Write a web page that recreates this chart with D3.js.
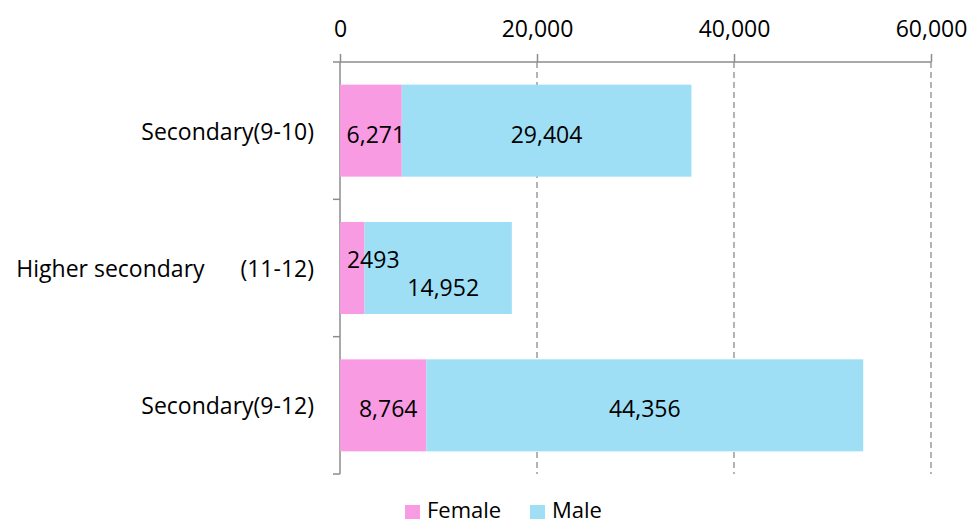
<!DOCTYPE html>
<html>
<head>
<meta charset="utf-8">
<script src="https://cdn.jsdelivr.net/npm/d3@7"></script>
<style>
    body { margin: 0; background: #fff; font-family: 'Open Sans', sans-serif; }
    svg text { font-family: 'Open Sans', sans-serif; fill: #000; }
    .cat { white-space: pre; }
</style>
</head>
<body>
<div id="chart"></div>
<script>
// data
var categories = ["Secondary(9-10)", "Higher secondary      (11-12)", "Secondary(9-12)"];
var female = [6271, 2493, 8764];
var male = [29404, 14952, 44356];
var femaleLabels = ["6,271", "2493", "8,764"];
var maleLabels = ["29,404", "14,952", "44,356"];
var xTicks = [0, 20000, 40000, 60000];

var width = 971, height = 520;
var top0 = 62, bottom0 = 474, fs = 23;

var svg = d3.select("#chart").append("svg")
    .attr("width", width)
    .attr("height", height);

var x = d3.scaleLinear().domain([0, 60000]).range([340, 931]);
var y = d3.scaleBand().domain(categories).range([top0, bottom0]).paddingInner(0.33).paddingOuter(0.165);

var pink = "#f99be3", blue = "#9edff5", axisCol = "#8c8c8c";

// gridlines
svg.append("g").selectAll("line")
    .data(xTicks.slice(1))
    .enter().append("line")
    .attr("x1", function(d) { return x(d); })
    .attr("x2", function(d) { return x(d); })
    .attr("y1", top0)
    .attr("y2", bottom0)
    .attr("stroke", axisCol)
    .attr("stroke-width", 1.3)
    .attr("stroke-dasharray", "6,4");

// top axis
var xAxis = d3.axisTop(x).tickValues(xTicks).tickSize(8).tickPadding(17)
    .tickFormat(d3.format(","));
var gx = svg.append("g").attr("transform", "translate(0," + top0 + ")").call(xAxis);
gx.select(".domain").attr("stroke", axisCol).attr("stroke-width", 1.5).attr("d", "M" + (x(0) - 7) + ",0H" + x(60000));
gx.selectAll(".tick line").attr("stroke", axisCol).attr("stroke-width", 1.5);
gx.selectAll(".tick text").attr("font-size", fs).attr("fill", "#000")
    .style("font-family", "'Open Sans', sans-serif");

// left axis line and ticks between categories
var bounds = d3.range(categories.length + 1).map(function(i) { return top0 + i * y.step(); });
svg.append("line")
    .attr("x1", x(0)).attr("x2", x(0))
    .attr("y1", top0).attr("y2", bottom0)
    .attr("stroke", axisCol).attr("stroke-width", 1.5);
svg.append("g").selectAll("line")
    .data(bounds.slice(1))
    .enter().append("line")
    .attr("x1", x(0) - 7).attr("x2", x(0))
    .attr("y1", function(d) { return d; })
    .attr("y2", function(d) { return d; })
    .attr("stroke", axisCol).attr("stroke-width", 1.5);

// category labels
svg.append("g").selectAll("text")
    .data(categories)
    .enter().append("text")
    .attr("class", "cat")
    .attr("x", 314)
    .attr("y", function(d) { return y(d) + y.bandwidth() / 2 + 1; })
    .attr("dy", "0.35em")
    .attr("text-anchor", "end")
    .attr("font-size", fs)
    .text(function(d) { return d; });

// bars
var rows = categories.map(function(c, i) { return {cat: c, f: female[i], m: male[i], fl: femaleLabels[i], ml: maleLabels[i]}; });

svg.append("g").selectAll("rect")
    .data(rows)
    .enter().append("rect")
    .attr("x", x(0))
    .attr("y", function(d) { return y(d.cat); })
    .attr("width", function(d) { return x(d.f) - x(0); })
    .attr("height", y.bandwidth())
    .attr("fill", pink);

svg.append("g").selectAll("rect")
    .data(rows)
    .enter().append("rect")
    .attr("x", function(d) { return x(d.f); })
    .attr("y", function(d) { return y(d.cat); })
    .attr("width", function(d) { return x(d.f + d.m) - x(d.f); })
    .attr("height", y.bandwidth())
    .attr("fill", blue);

// value labels (the small ones are nudged as in the original)
var fOff = [[5, 4], [21, -8], [5, 4]];
var mOff = [[0, 4], [5, 20], [0, 4]];
svg.append("g").selectAll("text")
    .data(rows)
    .enter().append("text")
    .attr("x", function(d, i) { return (x(0) + x(d.f)) / 2 + fOff[i][0]; })
    .attr("y", function(d, i) { return y(d.cat) + y.bandwidth() / 2 + fOff[i][1]; })
    .attr("dy", "0.35em")
    .attr("text-anchor", "middle")
    .attr("font-size", fs)
    .text(function(d) { return d.fl; });

svg.append("g").selectAll("text")
    .data(rows)
    .enter().append("text")
    .attr("x", function(d, i) { return (x(d.f) + x(d.f + d.m)) / 2 + mOff[i][0]; })
    .attr("y", function(d, i) { return y(d.cat) + y.bandwidth() / 2 + mOff[i][1]; })
    .attr("dy", "0.35em")
    .attr("text-anchor", "middle")
    .attr("font-size", fs)
    .text(function(d) { return d.ml; });

// legend
var legend = [{name: "Female", color: pink, x: 405}, {name: "Male", color: blue, x: 530}];
var lg = svg.append("g").selectAll("g")
    .data(legend)
    .enter().append("g")
    .attr("transform", function(d) { return "translate(" + d.x + ",505)"; });
lg.append("rect").attr("width", 15).attr("height", 14).attr("fill", function(d) { return d.color; });
lg.append("text")
    .attr("x", 22)
    .attr("y", 13)
    .attr("font-size", 22)
    .text(function(d) { return d.name; });
</script>
</body>
</html>
